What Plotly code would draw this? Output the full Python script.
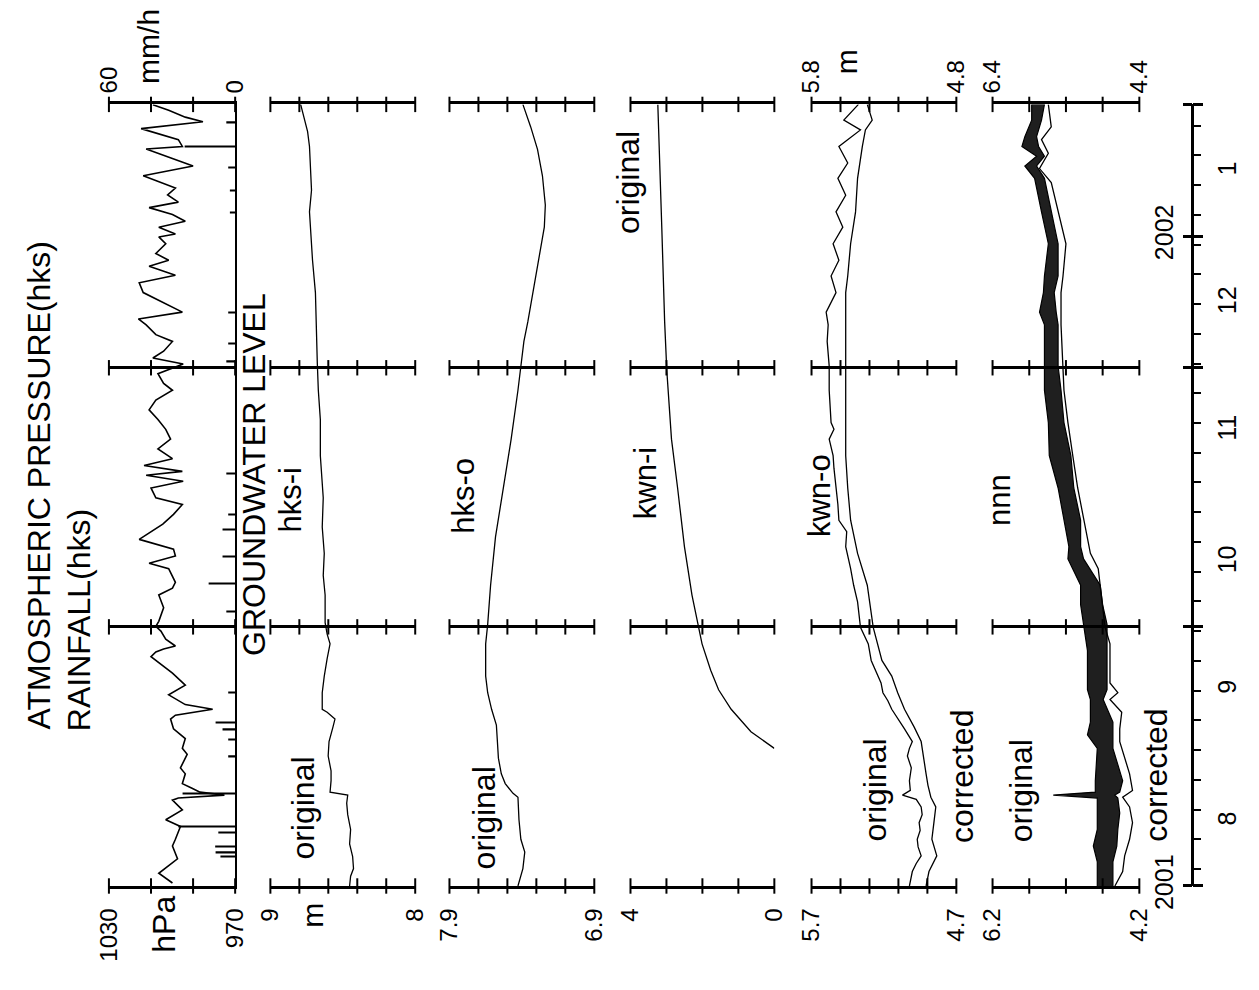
import pandas as pd
import plotly.graph_objects as go

START = pd.Timestamp("2001-08-01")
END = pd.Timestamp("2002-02-01")
OCT1 = pd.Timestamp("2001-10-01")
DEC1 = pd.Timestamp("2001-12-01")
JAN1 = pd.Timestamp("2002-01-01")

# ---- data (time given as days after 1 Aug 2001) ----
pressure_day = [0.7, 3.0, 6.4, 9.4, 11.0, 14.0, 15.6, 17.9, 20.2, 20.7, 21.4, 22.1, 23.0,
                24.1, 26.4, 27.8, 31.0, 32.4, 34.7, 37.0, 39.3, 40.2, 41.6, 42.7, 45.0,
                47.3, 50.1, 54.0, 55.1, 55.8, 56.5, 58.1, 60.0, 61.1, 62.3, 65.5, 68.5,
                70.1, 71.5, 74.7, 76.0, 77.7, 79.3, 81.6, 85.2, 87.5, 89.8, 91.4, 93.7,
                95.3, 96.7, 97.6, 99.0, 100.6, 102.9, 105.2, 107.5, 109.8, 112.1, 114.4,
                116.7, 118.3, 120.6, 122.0, 122.9, 124.3, 125.9, 128.2, 129.8, 132.1,
                133.5, 135.1, 137.4, 139.7, 142.0, 143.8, 145.9, 147.3, 148.9, 151.2,
                152.8, 153.5, 155.1, 156.5, 158.1, 159.7, 161.0, 162.7, 164.3, 167.2,
                169.5, 173.5, 174.1, 175.7, 178.3, 179.9, 181.0, 182.6, 183.9]
pressure_hpa = [999.8, 1006.3, 997.4, 999.8, 998.4, 996.0, 1003.0, 995.1, 999.8, 997.0,
                975.1, 986.7, 990.5, 995.1, 993.7, 996.0, 992.8, 995.1, 993.7, 999.3,
                1000.7, 998.4, 980.7, 993.7, 1001.6, 993.7, 999.8, 1010.0, 1007.7, 1004.0,
                998.4, 1003.0, 1005.3, 1007.7, 1006.3, 1004.0, 1006.3, 999.8, 998.4,
                1001.6, 1010.9, 998.4, 999.3, 1015.6, 1004.4, 999.3, 995.1, 1007.7,
                1010.0, 994.7, 1012.3, 995.1, 1013.3, 999.8, 1006.7, 1000.7, 1003.0,
                1006.7, 1010.9, 1007.7, 999.8, 1004.0, 1006.7, 999.8, 994.7, 1009.1,
                1004.0, 999.8, 1007.7, 1012.3, 1016.0, 995.1, 1004.4, 1013.7, 1015.6,
                998.4, 1010.9, 1001.6, 1007.7, 1003.0, 1006.3, 998.4, 1006.3, 993.7,
                999.8, 1010.9, 997.0, 1002.1, 998.4, 1013.7, 990.0, 1012.3, 995.1, 997.0,
                1014.7, 985.3, 993.7, 1001.6, 1009.1]

rain_day = [6.9, 8.0, 9.4, 12.6, 14.0, 21.8, 30.6, 34.5, 37.0, 38.6, 45.5, 64.6, 71.2,
            77.6, 83.9, 87.5, 97.2, 123.6, 127.7, 135.1, 158.5, 163.8, 169.1, 174.1, 179.9]
rain_mmh = [7.0, 9.3, 9.5, 8.0, 27.0, 25.0, 3.3, 3.3, 6.0, 9.3, 3.3, 4.2, 12.6,
            6.0, 6.0, 3.3, 4.2, 4.2, 3.3, 3.3, 2.5, 2.5, 3.3, 24.0, 4.2]

hks_i_day = [0.0, 2.3, 4.1, 6.9, 9.9, 13.3, 16.8, 19.5, 21.4, 22.1, 24.8, 27.1, 30.6, 34.0,
             37.4, 39.3, 40.9, 41.6, 45.5, 49.4, 53.5, 57.0, 59.3, 62.0, 68.5, 73.1, 78.3,
             84.5, 91.4, 101.3, 109.8, 116.7, 123.1, 130.5, 139.7, 147.3, 153.5, 158.7,
             163.8, 168.9, 174.1, 177.6, 180.3, 184.0]
hks_i_m = [8.453, 8.446, 8.426, 8.432, 8.453, 8.446, 8.466, 8.473, 8.466, 8.588, 8.581,
           8.581, 8.601, 8.595, 8.568, 8.554, 8.608, 8.642, 8.642, 8.628, 8.608, 8.588,
           8.608, 8.622, 8.622, 8.635, 8.628, 8.642, 8.635, 8.655, 8.655, 8.669, 8.676,
           8.682, 8.689, 8.709, 8.723, 8.730, 8.716, 8.723, 8.730, 8.743, 8.764, 8.791]

hks_o_day = [0.0, 4.1, 8.0, 11.0, 15.6, 20.9, 21.8, 24.1, 26.4, 30.1, 34.0, 37.9, 41.6,
             45.5, 49.4, 57.0, 61.6, 70.8, 82.2, 93.7, 105.2, 116.7, 128.2, 132.8, 144.3,
             155.1, 160.3, 167.2, 173.4, 178.7, 184.0]
hks_o_m = [7.427, 7.393, 7.380, 7.407, 7.420, 7.427, 7.461, 7.515, 7.542, 7.562, 7.569,
           7.576, 7.609, 7.636, 7.650, 7.650, 7.636, 7.616, 7.582, 7.528, 7.474, 7.427,
           7.386, 7.359, 7.299, 7.245, 7.238, 7.258, 7.292, 7.339, 7.393]

kwn_i_day = [32.4, 36.3, 41.6, 46.2, 50.8, 57.0, 68.5, 79.9, 93.7, 105.2, 121.3, 132.8,
             155.1, 184.0]
kwn_i_m = [0.00, 0.65, 1.20, 1.55, 1.77, 2.01, 2.29, 2.50, 2.69, 2.86, 2.99, 3.05, 3.13, 3.24]

kwn_o_orig_day = [0.0, 1.8, 3.4, 5.3, 7.1, 9.2, 11.0, 13.1, 14.9, 16.8, 18.6, 20.4, 21.4,
                  22.5, 24.8, 27.8, 30.6, 32.4, 34.0, 37.0, 39.3, 41.6, 43.6, 45.5, 47.8,
                  49.4, 53.1, 57.0, 60.9, 66.9, 70.8, 74.7, 79.9, 83.4, 86.1, 89.8, 93.7,
                  98.3, 101.3, 105.2, 107.5, 109.1, 116.7, 122.4, 128.2, 132.1, 135.1, 139.7,
                  143.6, 147.3, 151.2, 155.1, 158.7, 162.6, 166.6, 170.2, 174.1, 178.0, 180.3,
                  184.0]
kwn_o_orig_m = [5.024, 5.011, 5.004, 4.977, 4.943, 4.964, 4.970, 4.950, 4.957, 4.936, 4.943,
                4.977, 5.072, 5.018, 5.024, 5.011, 5.038, 5.024, 5.004, 5.058, 5.105, 5.146,
                5.173, 5.207, 5.220, 5.241, 5.288, 5.308, 5.362, 5.382, 5.409, 5.430, 5.464,
                5.457, 5.511, 5.518, 5.531, 5.545, 5.551, 5.578, 5.545, 5.565, 5.578, 5.578,
                5.592, 5.585, 5.599, 5.531, 5.565, 5.511, 5.551, 5.484, 5.531, 5.464, 5.518,
                5.450, 5.511, 5.362, 5.477, 5.376]

kwn_o_corr_day = [0.0, 3.4, 7.1, 11.0, 14.9, 18.6, 20.9, 23.7, 26.4, 31.7, 34.0, 37.4, 41.6,
                  45.5, 49.4, 53.1, 60.9, 70.8, 78.3, 86.1, 93.7, 101.3, 116.7, 132.1, 139.7,
                  143.6, 151.2, 158.7, 166.6, 174.1, 178.0, 180.3, 184.0]
kwn_o_corr_m = [5.009, 4.989, 4.935, 4.969, 4.955, 4.942, 4.976, 4.996, 5.009, 5.036, 5.043,
                5.091, 5.158, 5.205, 5.246, 5.314, 5.374, 5.415, 5.482, 5.530, 5.550, 5.564,
                5.564, 5.564, 5.564, 5.550, 5.530, 5.496, 5.482, 5.449, 5.428, 5.381, 5.415]

# nnn original: daily tidal range (upper and lower envelope)
nnn_orig_day = [0.0, 5.7, 9.4, 13.3, 17.2, 20.7, 21.4, 22.1, 24.8, 32.4, 35.6, 38.6, 43.9,
                46.2, 55.4, 61.6, 66.2, 70.8, 77.0, 79.9, 86.1, 93.7, 101.3, 109.1, 116.7,
                122.4, 132.1, 135.1, 139.7, 143.6, 151.2, 158.7, 166.6, 169.5, 171.8, 174.1,
                176.4, 180.3, 184.0]
nnn_orig_hi_m = [4.773, 4.773, 4.827, 4.773, 4.773, 4.773, 5.373, 4.800, 4.800, 4.773, 4.907,
                 4.867, 4.867, 4.907, 4.907, 4.960, 5.000, 5.000, 5.173, 5.160, 5.227, 5.307,
                 5.427, 5.440, 5.493, 5.493, 5.493, 5.560, 5.507, 5.493, 5.440, 5.533, 5.627,
                 5.760, 5.600, 5.800, 5.760, 5.667, 5.667]
nnn_orig_lo_m = [4.560, 4.560, 4.507, 4.493, 4.467, 4.493, 4.533, 4.467, 4.427, 4.560, 4.560,
                 4.560, 4.693, 4.640, 4.640, 4.640, 4.700, 4.733, 4.960, 5.000, 5.000, 5.093,
                 5.133, 5.227, 5.267, 5.307, 5.307, 5.333, 5.360, 5.307, 5.307, 5.400, 5.493,
                 5.600, 5.493, 5.573, 5.600, 5.533, 5.493]

nnn_corr_day = [0.0, 3.4, 7.1, 11.0, 14.9, 18.6, 20.9, 22.5, 26.4, 34.0, 37.0, 40.9, 43.9,
                45.5, 47.8, 53.1, 57.0, 60.9, 70.8, 74.7, 78.3, 86.1, 93.7, 101.3, 109.1,
                116.7, 122.4, 132.1, 139.7, 143.6, 151.2, 158.7, 165.6, 168.9, 172.5, 175.7,
                178.7, 184.0]
nnn_corr_m = [4.733, 4.627, 4.600, 4.533, 4.493, 4.533, 4.627, 4.493, 4.533, 4.667, 4.667,
              4.640, 4.800, 4.693, 4.800, 4.800, 4.800, 4.867, 4.933, 4.960, 5.067, 5.160,
              5.240, 5.307, 5.373, 5.427, 5.440, 5.467, 5.467, 5.440, 5.400, 5.507, 5.600,
              5.760, 5.640, 5.733, 5.600, 5.640]

# ---- axis ticks ----
pressure_ticks = [1030, 1010, 990, 970]
pressure_labels = ["1030", "", "", "970"]
rain_ticks = [60, 40, 20, 0]
rain_labels = ["60", "", "", "0"]
hks_i_ticks = [9.0, 8.8, 8.6, 8.4, 8.2, 8.0]
hks_i_labels = ["9", "", "", "", "", "8"]
hks_o_ticks = [7.9, 7.7, 7.5, 7.3, 7.1, 6.9]
hks_o_labels = ["7.9", "", "", "", "", "6.9"]
kwn_i_ticks = [4, 3, 2, 1, 0]
kwn_i_labels = ["4", "", "", "", "0"]
kwn_o_ticks = [5.7, 5.5, 5.3, 5.1, 4.9, 4.7]
kwn_o_labels = ["5.7", "", "", "", "", "4.7"]
kwn_o_top_ticks = [5.8, 5.6, 5.4, 5.2, 5.0, 4.8]
kwn_o_top_labels = ["5.8", "", "", "", "", "4.8"]
nnn_ticks = [6.2, 5.7, 5.2, 4.7, 4.2]
nnn_labels = ["6.2", "", "", "", "4.2"]
nnn_top_ticks = [6.4, 5.9, 5.4, 4.9, 4.4]
nnn_top_labels = ["6.4", "", "", "", "4.4"]

month_mid = [pd.Timestamp(d) for d in ["2001-08-16", "2001-09-16", "2001-10-16",
                                       "2001-11-16", "2001-12-16", "2002-01-16"]]
month_labels = ["8", "9", "10", "11", "12", "1"]
week_ticks = list(pd.date_range("2001-08-05", END, freq="7D"))
major_ticks = [START, OCT1, DEC1, JAN1, END]
year_labels = ["2001", "", "", "2002", ""]

# ---- page geometry (pixels) ----
W, H = 1259, 990
TOP_PX, BOTTOM_PX = 107, 908
TIME_AXIS_PX = 1204
FONT = "Liberation Sans, Arial, Helvetica, sans-serif"
INK = "black"
y_dom = [1 - BOTTOM_PX / H, 1 - TOP_PX / H]


def dates(days):
    return [START + pd.Timedelta(days=d) for d in days]


def px(x):
    return x / W


def py(y):
    return 1 - y / H


panels = [
    dict(span=(97, 226), ticks=pressure_ticks, labels=pressure_labels),
    dict(span=(262, 410), ticks=hks_i_ticks, labels=hks_i_labels),
    dict(span=(445, 593), ticks=hks_o_ticks, labels=hks_o_labels),
    dict(span=(630, 777), ticks=kwn_i_ticks, labels=kwn_i_labels),
    dict(span=(815, 963), ticks=kwn_o_ticks, labels=kwn_o_labels),
    dict(span=(1000, 1150), ticks=nnn_ticks, labels=nnn_labels),
]

fig = go.Figure()
layout = {}
grid_rows = [START, OCT1, DEC1, END]

for i, p in enumerate(panels, start=1):
    sfx = "" if i == 1 else str(i)
    xa, ya = "x" + sfx, "y" + sfx
    layout["xaxis" + sfx] = dict(
        domain=[px(p["span"][0]), px(p["span"][1])], anchor=ya,
        range=[p["ticks"][0], p["ticks"][-1]], tickvals=p["ticks"], ticktext=p["labels"],
        ticks="", showline=True, linewidth=2.5, linecolor=INK, mirror=True,
        showgrid=False, zeroline=False, tickangle=-90, ticklabelstandoff=10,
        tickfont=dict(size=24, color=INK, family=FONT),
    )
    layout["yaxis" + sfx] = dict(
        domain=y_dom, anchor=xa, type="date", range=[START, END],
        tickvals=[OCT1, DEC1], showgrid=True, gridcolor=INK, gridwidth=2.5,
        showticklabels=False, ticks="", zeroline=False,
        showline=(i == 1), side="right", linecolor=INK, linewidth=1.5,
    )
    # cross ticks along the panel's horizontal rules
    fig.add_trace(go.Scatter(
        x=[v for _ in grid_rows for v in p["ticks"]],
        y=[d for d in grid_rows for _ in p["ticks"]],
        xaxis=xa, yaxis=ya, mode="markers", cliponaxis=False, hoverinfo="skip",
        marker=dict(symbol="line-ns", size=11, line=dict(width=2, color=INK)),
    ))

# secondary scales along the top edge
top_common = dict(side="top", ticks="", showline=False, showgrid=False, zeroline=False,
                  tickangle=-90, ticklabelstandoff=10,
                  tickfont=dict(size=24, color=INK, family=FONT))
layout["xaxis7"] = dict(overlaying="x", anchor="y", range=[rain_ticks[0], rain_ticks[-1]],
                        tickvals=rain_ticks, ticktext=rain_labels, **top_common)
layout["xaxis8"] = dict(overlaying="x5", anchor="y5",
                        range=[kwn_o_top_ticks[0], kwn_o_top_ticks[-1]],
                        tickvals=kwn_o_top_ticks, ticktext=kwn_o_top_labels, **top_common)
layout["xaxis9"] = dict(overlaying="x6", anchor="y6",
                        range=[nnn_top_ticks[0], nnn_top_ticks[-1]],
                        tickvals=nnn_top_ticks, ticktext=nnn_top_labels, **top_common)

# time axis
time_common = dict(overlaying="y6", anchor="free", position=px(TIME_AXIS_PX), domain=y_dom,
                   type="date", range=[START, END], showgrid=False, zeroline=False)
layout["yaxis7"] = dict(side="right", showline=True, linecolor=INK, linewidth=2.5,
                        ticks="outside", ticklen=7, tickwidth=1.5, tickcolor=INK,
                        tickvals=week_ticks, showticklabels=False, **time_common)
layout["yaxis8"] = dict(side="right", showline=False, ticks="outside", ticklen=10,
                        tickwidth=2.5, tickcolor=INK, tickvals=major_ticks,
                        showticklabels=False, **time_common)
layout["yaxis9"] = dict(side="left", showline=False, ticks="outside", ticklen=9,
                        tickwidth=2.5, tickcolor=INK, tickvals=major_ticks,
                        ticktext=year_labels, tickangle=-90,
                        tickfont=dict(size=25, color=INK, family=FONT), **time_common)
layout["yaxis10"] = dict(side="right", showline=False, ticks="", tickvals=month_mid,
                         ticktext=month_labels, tickangle=-90, ticklabelstandoff=18,
                         tickfont=dict(size=25, color=INK, family=FONT), **time_common)
for k in (7, 8, 9, 10):
    fig.add_trace(go.Scatter(x=[None], y=[None], xaxis="x6", yaxis=f"y{k}",
                             mode="lines", hoverinfo="skip"))

line = dict(color=INK, width=1.3)

# pressure and rainfall
fig.add_trace(go.Bar(orientation="h", x=rain_mmh, y=dates(rain_day), xaxis="x7", yaxis="y",
                     width=0.3 * 86400000, marker=dict(color=INK, line=dict(width=0))))
fig.add_trace(go.Scatter(x=pressure_hpa, y=dates(pressure_day), xaxis="x", yaxis="y",
                         mode="lines", line=dict(color=INK, width=1.6)))

# groundwater levels
fig.add_trace(go.Scatter(x=hks_i_m, y=dates(hks_i_day), xaxis="x2", yaxis="y2",
                         mode="lines", line=line))
fig.add_trace(go.Scatter(x=hks_o_m, y=dates(hks_o_day), xaxis="x3", yaxis="y3",
                         mode="lines", line=line))
fig.add_trace(go.Scatter(x=kwn_i_m, y=dates(kwn_i_day), xaxis="x4", yaxis="y4",
                         mode="lines", line=line))
fig.add_trace(go.Scatter(x=kwn_o_orig_m, y=dates(kwn_o_orig_day), xaxis="x5", yaxis="y5",
                         mode="lines", line=line))
fig.add_trace(go.Scatter(x=kwn_o_corr_m, y=dates(kwn_o_corr_day), xaxis="x8", yaxis="y5",
                         mode="lines", line=line))
nnn_dates = dates(nnn_orig_day)
fig.add_trace(go.Scatter(x=nnn_orig_hi_m + nnn_orig_lo_m[::-1],
                         y=nnn_dates + nnn_dates[::-1], xaxis="x6", yaxis="y6",
                         mode="lines", fill="toself", fillcolor="rgba(0,0,0,0.88)",
                         line=dict(color=INK, width=1.2)))
fig.add_trace(go.Scatter(x=nnn_corr_m, y=dates(nnn_corr_day), xaxis="x9", yaxis="y6",
                         mode="lines", line=line))

# rotated captions (pixel centres)
captions = [
    ("ATMOSPHERIC PRESSURE(hks)", 26, 497, 32),
    ("RAINFALL(hks)", 66, 636, 32),
    ("GROUNDWATER LEVEL", 245, 486, 32),
    ("hks-i", 283, 512, 31),
    ("original", 295, 828, 32),
    ("hks-o", 460, 508, 31),
    ("original", 480, 838, 32),
    ("kwn-i", 645, 495, 31),
    ("original", 628, 187, 32),
    ("kwn-o", 823, 508, 31),
    ("original", 880, 810, 32),
    ("corrected", 968, 796, 32),
    ("nnn", 1007, 512, 31),
    ("original", 1029, 810, 32),
    ("corrected", 1167, 794, 32),
    ("hPa", 153, 947, 32),
    ("m", 305, 938, 30),
    ("mm/h", 138, 48, 30),
    ("m", 851, 63, 30),
]
annotations = [
    dict(text=t, x=px(cx), y=py(cy), xref="paper", yref="paper", showarrow=False,
         textangle=-90, xanchor="center", yanchor="middle",
         font=dict(size=s, color=INK, family=FONT))
    for t, cx, cy, s in captions
]

fig.update_layout(
    width=W, height=H, margin=dict(l=0, r=0, t=0, b=0),
    paper_bgcolor="white", plot_bgcolor="white", showlegend=False,
    font=dict(family=FONT, color=INK), annotations=annotations, **layout,
)

fig.write_html("out.html", config={"displayModeBar": False})

# let the figure sit flush in the page
with open("out.html", encoding="utf-8") as fh:
    page = fh.read()
page = page.replace("<head>", "<head><style>html,body{margin:0;padding:0;overflow:hidden}</style>", 1)
with open("out.html", "w", encoding="utf-8") as fh:
    fh.write(page)
